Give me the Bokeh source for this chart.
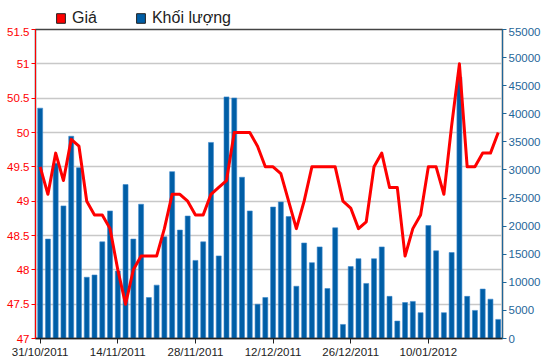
from bokeh.plotting import figure
from bokeh.layouts import column
from bokeh.models import (Range1d, LinearAxis, FixedTicker, NumeralTickFormatter,
                          Legend, LegendItem, ColumnDataSource)
from bokeh.embed import file_html
from bokeh.resources import INLINE

dates = ["31/10/2011", "01/11/2011", "02/11/2011", "03/11/2011", "04/11/2011",
         "07/11/2011", "08/11/2011", "09/11/2011", "10/11/2011", "11/11/2011",
         "14/11/2011", "15/11/2011", "16/11/2011", "17/11/2011", "18/11/2011",
         "21/11/2011", "22/11/2011", "23/11/2011", "24/11/2011", "25/11/2011",
         "28/11/2011", "29/11/2011", "30/11/2011", "01/12/2011", "02/12/2011",
         "05/12/2011", "06/12/2011", "07/12/2011", "08/12/2011", "09/12/2011",
         "12/12/2011", "13/12/2011", "14/12/2011", "15/12/2011", "16/12/2011",
         "19/12/2011", "20/12/2011", "21/12/2011", "22/12/2011", "23/12/2011",
         "26/12/2011", "27/12/2011", "28/12/2011", "29/12/2011", "30/12/2011",
         "03/01/2012", "04/01/2012", "05/01/2012", "06/01/2012", "09/01/2012",
         "10/01/2012", "11/01/2012", "12/01/2012", "13/01/2012", "16/01/2012",
         "17/01/2012", "18/01/2012", "19/01/2012", "20/01/2012", "30/01/2012"]

price = [49.5, 49.1, 49.7, 49.3, 49.9, 49.8, 49.0, 48.8, 48.8, 48.6,
         48.0, 47.5, 48.0, 48.2, 48.2, 48.2, 48.6, 49.1, 49.1, 49.0,
         48.8, 48.8, 49.1, 49.2, 49.3, 50.0, 50.0, 50.0, 49.8, 49.5,
         49.5, 49.4, 49.0, 48.6, 49.0, 49.5, 49.5, 49.5, 49.5, 49.0,
         48.9, 48.6, 48.7, 49.5, 49.7, 49.2, 49.2, 48.2, 48.6, 48.8,
         49.5, 49.5, 49.1, 50.1, 51.0, 49.5, 49.5, 49.7, 49.7, 50.0]

volume = [41000, 17700, 31200, 23600, 36000, 30400, 10900, 11300, 17200, 22700,
          12000, 27400, 17700, 23900, 7300, 9500, 18100, 29700, 19300, 21800,
          13900, 17200, 34900, 14700, 43000, 42800, 28700, 22700, 6100, 7300,
          23400, 24300, 21700, 9300, 17000, 13500, 16300, 8900, 19700, 2500,
          12800, 14200, 9800, 14200, 16300, 7500, 3100, 6400, 6600, 4600,
          20100, 15600, 4600, 15300, 46500, 7500, 5000, 8800, 7000, 3400]

price_ticks = [47, 47.5, 48, 48.5, 49, 49.5, 50, 50.5, 51, 51.5]
volume_ticks = list(range(0, 55001, 5000))
date_tick_step = 10
legend_labels = ["Giá", "Khối lượng"]

RED = "#FF0000"
BLUE_BAR = "#005EA6"
BLUE_AXIS = "#1F6699"
FONT = "Liberation Sans"

idx = list(range(len(dates)))
src = ColumnDataSource(dict(i=idx, price=price, volume=volume))

# ---------- legend strip ----------
lg = figure(width=548, height=27, output_backend="svg", toolbar_location=None,
            x_range=Range1d(0, 1), y_range=Range1d(0, 1),
            x_axis_location=None, y_axis_location=None,
            min_border=0, background_fill_color="white",
            border_fill_color="white")
lg.grid.visible = False
lg.outline_line_color = None
dummy = ColumnDataSource(dict(x=[-50], y=[-50]))
r_red = lg.rect(x="x", y="y", width=1, height=1, source=dummy,
                fill_color=RED, line_color="#222222", line_width=1)
r_blue = lg.rect(x="x", y="y", width=1, height=1, source=dummy,
                 fill_color=BLUE_BAR, line_color="#222222", line_width=1)
legend = Legend(items=[LegendItem(label=legend_labels[0], renderers=[r_red]),
                       LegendItem(label=legend_labels[1], renderers=[r_blue])],
                orientation="horizontal", location=(20, 0))
legend.label_text_font = FONT
legend.label_text_font_size = "16px"
legend.label_text_color = "#222222"
legend.glyph_width = 11
legend.glyph_height = 12
legend.label_standoff = 6
legend.spacing = 38
legend.padding = 1
legend.margin = 0
legend.border_line_color = None
legend.background_fill_alpha = 0
legend.label_height = 18
lg.add_layout(legend)

# ---------- main chart ----------
p = figure(width=548, height=333, output_backend="svg", toolbar_location=None,
           x_range=Range1d(-0.6, 59.55), y_range=Range1d(47, 51.5),
           min_border_left=35, min_border_right=46, min_border_top=2,
           min_border_bottom=22, background_fill_color="white",
           border_fill_color="white")
p.extra_y_ranges = {"vol": Range1d(0, 55000)}

p.xgrid.visible = False
p.ygrid.grid_line_color = "#C8C8C8"
p.ygrid.grid_line_width = 1.5
p.ygrid.ticker = FixedTicker(ticks=price_ticks)
p.outline_line_color = "#444444"
p.outline_line_width = 1.5

ya = p.yaxis[0]
ya.ticker = FixedTicker(ticks=price_ticks)
ya.formatter = NumeralTickFormatter(format="0.[0]")
ya.axis_line_color = RED
ya.major_tick_line_color = RED
ya.minor_tick_line_color = None
ya.major_label_text_color = RED
ya.major_label_text_font = FONT
ya.major_label_text_font_size = "11.5px"
ya.major_tick_out = 4
ya.major_tick_in = 0
ya.major_label_standoff = 2

ra = LinearAxis(y_range_name="vol", ticker=FixedTicker(ticks=volume_ticks),
                formatter=NumeralTickFormatter(format="0"))
ra.axis_line_color = BLUE_AXIS
ra.major_tick_line_color = BLUE_AXIS
ra.minor_tick_line_color = None
ra.major_label_text_color = BLUE_AXIS
ra.major_label_text_font = FONT
ra.major_label_text_font_size = "11.5px"
ra.major_tick_out = 4
ra.major_tick_in = 0
ra.major_label_standoff = 2
p.add_layout(ra, "right")

xa = p.xaxis[0]
tick_idx = idx[::date_tick_step]
xa.ticker = FixedTicker(ticks=tick_idx)
xa.major_label_overrides = {i: dates[i] for i in tick_idx}
xa.axis_line_color = "#222222"
xa.axis_line_width = 1.5
xa.major_tick_line_color = "#222222"
xa.minor_tick_line_color = None
xa.major_tick_out = 5
xa.major_tick_in = 0
xa.major_label_standoff = 2
xa.major_label_text_font = FONT
xa.major_label_text_font_size = "11.5px"
xa.major_label_text_color = "#222222"

p.vbar(x="i", top="volume", bottom=0, width=0.64, source=src,
       y_range_name="vol", fill_color=BLUE_BAR, line_color="#3C88CC",
       line_width=0.6)

p.line(x="i", y="price", source=src, line_color=RED, line_width=3,
       line_join="round")

layout = column(lg, p, spacing=0)
open("out.html", "w").write(file_html(layout, INLINE))
